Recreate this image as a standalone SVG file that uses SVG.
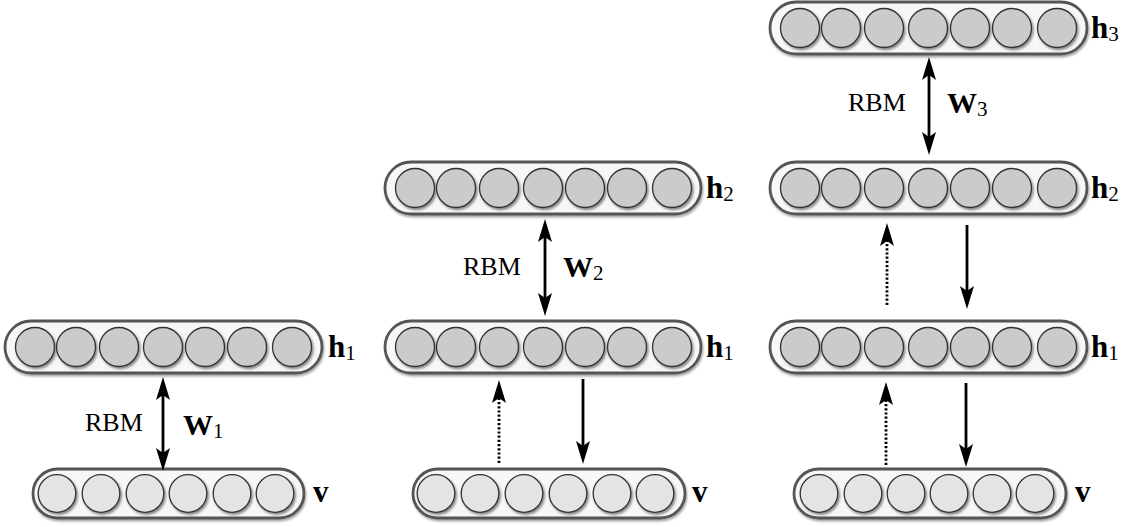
<svg xmlns="http://www.w3.org/2000/svg" width="1131" height="527" viewBox="0 0 1131 527">
<style>
.bar{fill:#f7f7f7;stroke:#555;stroke-width:2.8;filter:url(#sh)}
.hc{fill:#cbcbcb;stroke:#333;stroke-width:1.3;filter:url(#sh2)}
.vc{fill:#e4e4e4;stroke:#333;stroke-width:1.3;filter:url(#sh2)}
.lbl{font-family:"Liberation Serif","DejaVu Serif",serif;font-weight:bold;font-size:31px;fill:#000}
.sub{font-weight:normal;font-size:21px}
.rbm{font-family:"Liberation Serif","DejaVu Serif",serif;font-size:26px;fill:#000}
.w{font-family:"Liberation Serif","DejaVu Serif",serif;font-weight:bold;font-size:30px;fill:#000}
.solid{stroke:#000;stroke-width:2.8;fill:none}
.dot{stroke:#000;stroke-width:2.8;fill:none;stroke-dasharray:2.2 2}
</style>
<defs>
<filter id="sh" x="-5%" y="-30%" width="110%" height="170%">
<feDropShadow dx="1" dy="2" stdDeviation="1.2" flood-color="#000" flood-opacity="0.35"/>
</filter>
<filter id="sh2" x="-30%" y="-30%" width="170%" height="170%">
<feDropShadow dx="1.5" dy="2" stdDeviation="1.3" flood-color="#000" flood-opacity="0.45"/>
</filter>
<marker id="ah" viewBox="0 0 23 15" markerWidth="23" markerHeight="15" refX="17" refY="7.5" orient="auto-start-reverse" markerUnits="userSpaceOnUse">
<path d="M0,0.5 L23,7.5 L0,14.5 L5,7.5 Z" fill="#000"/>
</marker>
</defs>

<!-- Panel 1 -->
<g id="p1-h1">
<rect class="bar" x="5" y="321" width="317" height="52" rx="26"/>
<circle class="hc" cx="35" cy="347" r="19.5"/><circle class="hc" cx="76" cy="347" r="19.5"/><circle class="hc" cx="119" cy="347" r="19.5"/><circle class="hc" cx="163" cy="347" r="19.5"/><circle class="hc" cx="205" cy="347" r="19.5"/><circle class="hc" cx="247" cy="347" r="19.5"/><circle class="hc" cx="292" cy="347" r="19.5"/>
<text class="lbl" x="328" y="357">h<tspan class="sub" dy="3">1</tspan></text>
</g>
<g id="p1-v">
<rect class="bar" x="33" y="469" width="271" height="49" rx="24.5"/>
<circle class="vc" cx="57" cy="493.5" r="18.8"/><circle class="vc" cx="101" cy="493.5" r="18.8"/><circle class="vc" cx="145" cy="493.5" r="18.8"/><circle class="vc" cx="188" cy="493.5" r="18.8"/><circle class="vc" cx="232" cy="493.5" r="18.8"/><circle class="vc" cx="275" cy="493.5" r="18.8"/>
<text class="lbl" x="313" y="502">v</text>
</g>

<!-- Panel 2 -->
<g id="p2-h2">
<rect class="bar" x="385" y="162" width="316" height="52" rx="26"/>
<circle class="hc" cx="415" cy="188" r="19.5"/><circle class="hc" cx="456" cy="188" r="19.5"/><circle class="hc" cx="499" cy="188" r="19.5"/><circle class="hc" cx="543" cy="188" r="19.5"/><circle class="hc" cx="585" cy="188" r="19.5"/><circle class="hc" cx="627" cy="188" r="19.5"/><circle class="hc" cx="672" cy="188" r="19.5"/>
<text class="lbl" x="706" y="198">h<tspan class="sub" dy="3">2</tspan></text>
</g>
<g id="p2-h1">
<rect class="bar" x="385" y="321" width="316" height="52" rx="26"/>
<circle class="hc" cx="415" cy="347" r="19.5"/><circle class="hc" cx="456" cy="347" r="19.5"/><circle class="hc" cx="499" cy="347" r="19.5"/><circle class="hc" cx="543" cy="347" r="19.5"/><circle class="hc" cx="585" cy="347" r="19.5"/><circle class="hc" cx="627" cy="347" r="19.5"/><circle class="hc" cx="672" cy="347" r="19.5"/>
<text class="lbl" x="706" y="357">h<tspan class="sub" dy="3">1</tspan></text>
</g>
<g id="p2-v">
<rect class="bar" x="413" y="469" width="272" height="49" rx="24.5"/>
<circle class="vc" cx="436" cy="493.5" r="18.8"/><circle class="vc" cx="480" cy="493.5" r="18.8"/><circle class="vc" cx="524" cy="493.5" r="18.8"/><circle class="vc" cx="568" cy="493.5" r="18.8"/><circle class="vc" cx="612" cy="493.5" r="18.8"/><circle class="vc" cx="655" cy="493.5" r="18.8"/>
<text class="lbl" x="692" y="502">v</text>
</g>

<!-- Panel 3 -->
<g id="p3-h3">
<rect class="bar" x="770" y="2" width="317" height="52" rx="26"/>
<circle class="hc" cx="800" cy="28" r="19.5"/><circle class="hc" cx="841" cy="28" r="19.5"/><circle class="hc" cx="884" cy="28" r="19.5"/><circle class="hc" cx="928" cy="28" r="19.5"/><circle class="hc" cx="970" cy="28" r="19.5"/><circle class="hc" cx="1012" cy="28" r="19.5"/><circle class="hc" cx="1057" cy="28" r="19.5"/>
<text class="lbl" x="1091" y="38">h<tspan class="sub" dy="3">3</tspan></text>
</g>
<g id="p3-h2">
<rect class="bar" x="770" y="162" width="317" height="52" rx="26"/>
<circle class="hc" cx="800" cy="188" r="19.5"/><circle class="hc" cx="841" cy="188" r="19.5"/><circle class="hc" cx="884" cy="188" r="19.5"/><circle class="hc" cx="928" cy="188" r="19.5"/><circle class="hc" cx="970" cy="188" r="19.5"/><circle class="hc" cx="1012" cy="188" r="19.5"/><circle class="hc" cx="1057" cy="188" r="19.5"/>
<text class="lbl" x="1091" y="198">h<tspan class="sub" dy="3">2</tspan></text>
</g>
<g id="p3-h1">
<rect class="bar" x="770" y="321" width="317" height="52" rx="26"/>
<circle class="hc" cx="800" cy="347" r="19.5"/><circle class="hc" cx="841" cy="347" r="19.5"/><circle class="hc" cx="884" cy="347" r="19.5"/><circle class="hc" cx="928" cy="347" r="19.5"/><circle class="hc" cx="970" cy="347" r="19.5"/><circle class="hc" cx="1012" cy="347" r="19.5"/><circle class="hc" cx="1057" cy="347" r="19.5"/>
<text class="lbl" x="1091" y="357">h<tspan class="sub" dy="3">1</tspan></text>
</g>
<g id="p3-v">
<rect class="bar" x="794" y="469" width="272" height="49" rx="24.5"/>
<circle class="vc" cx="819" cy="493.5" r="18.8"/><circle class="vc" cx="863" cy="493.5" r="18.8"/><circle class="vc" cx="906" cy="493.5" r="18.8"/><circle class="vc" cx="949" cy="493.5" r="18.8"/><circle class="vc" cx="992" cy="493.5" r="18.8"/><circle class="vc" cx="1035" cy="493.5" r="18.8"/>
<text class="lbl" x="1075" y="502">v</text>
</g>

<!-- Connectors -->
<g id="connectors">
<line class="solid" x1="163" y1="383" x2="163" y2="465" marker-start="url(#ah)" marker-end="url(#ah)"/>
<line class="solid" x1="545" y1="225" x2="545" y2="310" marker-start="url(#ah)" marker-end="url(#ah)"/>
<line class="dot" x1="499" y1="463" x2="499" y2="386" marker-end="url(#ah)"/>
<line class="solid" x1="583" y1="379" x2="583" y2="458" marker-end="url(#ah)"/>
<line class="solid" x1="929" y1="63" x2="929" y2="149" marker-start="url(#ah)" marker-end="url(#ah)"/>
<line class="dot" x1="887" y1="305" x2="887" y2="229" marker-end="url(#ah)"/>
<line class="solid" x1="967" y1="225" x2="967" y2="303" marker-end="url(#ah)"/>
<line class="dot" x1="886" y1="465" x2="886" y2="388" marker-end="url(#ah)"/>
<line class="solid" x1="966" y1="383" x2="966" y2="461" marker-end="url(#ah)"/>
</g>

<!-- Labels -->
<g id="labels">
<text class="rbm" x="85" y="431">RBM</text>
<text class="w" x="183" y="435">W<tspan class="sub" dy="3">1</tspan></text>
<text class="rbm" x="463" y="275">RBM</text>
<text class="w" x="563" y="277">W<tspan class="sub" dy="3">2</tspan></text>
<text class="rbm" x="848" y="111">RBM</text>
<text class="w" x="947" y="113">W<tspan class="sub" dy="3">3</tspan></text>
</g>
</svg>
